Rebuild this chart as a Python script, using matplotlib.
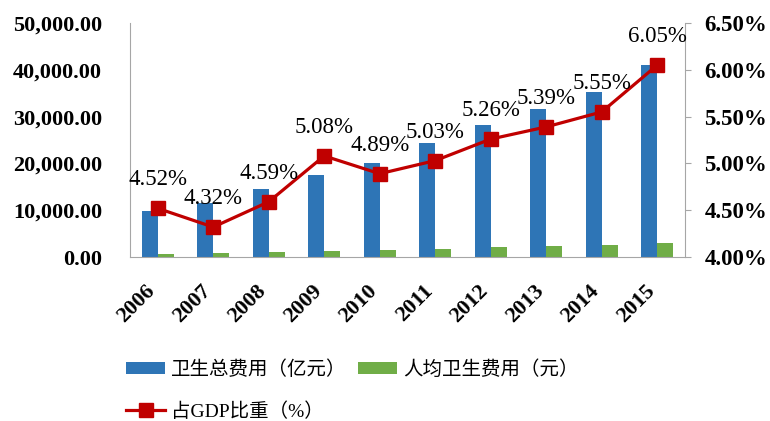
import matplotlib.pyplot as plt
import numpy as np
from matplotlib.ticker import FuncFormatter

# Dados
anos = ["2006", "2007", "2008", "2009", "2010", "2011", "2012", "2013", "2014", "2015"]
total = [9843.3, 11574.0, 14535.4, 17541.9, 19980.4, 24345.9, 28119.0, 31669.0, 35312.4, 40974.6]
per_capita = [748.8, 876.0, 1094.5, 1314.3, 1490.1, 1807.0, 2076.7, 2327.4, 2581.7, 2980.8]
pct_gdp = [4.52, 4.32, 4.59, 5.08, 4.89, 5.03, 5.26, 5.39, 5.55, 6.05]

AZUL = "#2E75B6"
VERDE = "#70AD47"
VERMELHO = "#C00000"
CINZA = "#A6A6A6"
SERIF = ["Liberation Serif", "Noto Sans CJK SC"]

plt.rcParams["font.family"] = SERIF

fig = plt.figure(figsize=(7.7, 4.21), dpi=100)
ax = fig.add_axes([0.1688, 0.3895, 0.7208, 0.5559])
ax2 = ax.twinx()

x = np.arange(len(anos)) + 0.5
w = 0.288
b1 = ax.bar(x - w / 2, total, w, color=AZUL, label="卫生总费用（亿元）")
b2 = ax.bar(x + w / 2, per_capita, w, color=VERDE, label="人均卫生费用（元）")

ax.set_xlim(0, len(anos))
ax.set_ylim(0, 50000)
ax.set_yticks(np.arange(0, 50001, 10000))
ax.yaxis.set_major_formatter(FuncFormatter(lambda v, p: f"{v:,.2f}"))
ax.set_xticks(x)
ax.set_xticklabels([])
ax.tick_params(axis="x", length=0)
ax.tick_params(axis="y", length=0, pad=20, labelsize=16)
for t in ax.get_yticklabels():
    t.set_fontweight("bold")

# rótulos dos anos, girados e um pouco deslocados para a esquerda
for xi, ano in zip(x, anos):
    ax.annotate(ano, (xi, 0), xytext=(-9, -17), textcoords="offset points",
                rotation=45, ha="right", va="top", rotation_mode="anchor",
                fontsize=16, weight="bold", annotation_clip=False)

(linha,) = ax2.plot(x, pct_gdp, color=VERMELHO, lw=2.3, marker="s", ms=9.5,
                    label="占GDP比重（%）")
ax2.set_ylim(4.0, 6.5)
ax2.set_yticks(np.arange(4.0, 6.51, 0.5))
ax2.yaxis.set_major_formatter(FuncFormatter(lambda v, p: f"{v:.2f}%"))
ax2.tick_params(axis="y", length=4, color=CINZA, pad=10, labelsize=16.5)
for t in ax2.get_yticklabels():
    t.set_fontweight("bold")

for xi, v in zip(x, pct_gdp):
    ax2.annotate(f"{v:.2f}%", (xi, v), xytext=(0, 13), textcoords="offset points",
                 ha="center", va="bottom", fontsize=16.5)

for a in (ax, ax2):
    a.spines["top"].set_visible(False)
    for s in ("left", "right", "bottom"):
        a.spines[s].set_color(CINZA)
ax.spines["right"].set_visible(False)
ax2.spines["left"].set_visible(False)
ax2.spines["bottom"].set_visible(False)

fig.legend([b1, linha, b2], [b1.get_label(), linha.get_label(), b2.get_label()],
           loc="upper left", bbox_to_anchor=(0.164, 0.145), ncol=2, frameon=False,
           fontsize=14, handlelength=2.0, handleheight=0.6, handletextpad=0.3,
           columnspacing=0.6, labelspacing=1.2, borderpad=0, borderaxespad=0)

fig.savefig("out.png", dpi=100)
